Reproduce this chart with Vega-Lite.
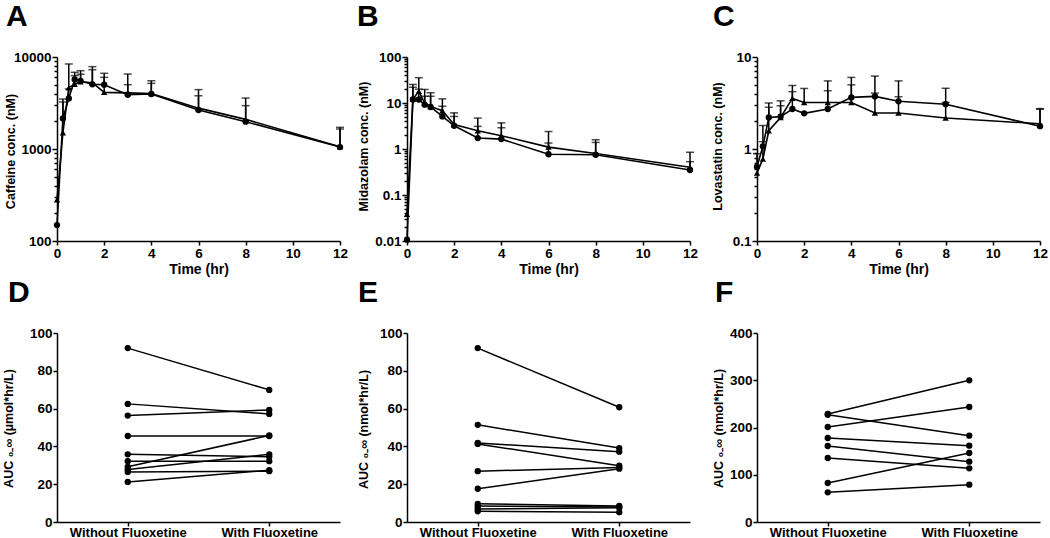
{
  "$schema": "https://vega.github.io/schema/vega-lite/v6.json",
  "padding": {"left": 2, "top": 2, "right": 0, "bottom": 0},
  "background": "white",
  "columns": 3,
  "bounds": "flush",
  "spacing": {"row": 92, "column": 67},
  "datasets": {
    "A": [
      {"t": 0, "s": "c", "m": 149}, {"t": 0, "s": "t", "m": 280},
      {"t": 0.25, "s": "c", "m": 2150, "u": 3240}, {"t": 0.25, "s": "t", "m": 1500, "u": 3490},
      {"t": 0.5, "s": "c", "m": 3550, "u": 4500}, {"t": 0.5, "s": "t", "m": 4640, "u": 8400},
      {"t": 0.75, "s": "c", "m": 5710, "u": 6820}, {"t": 0.75, "s": "t", "m": 5050, "u": 6270},
      {"t": 1, "s": "c", "m": 5490, "u": 7100}, {"t": 1, "s": "t", "m": 5370, "u": 6500},
      {"t": 1.5, "s": "c", "m": 5050, "u": 7850}, {"t": 1.5, "s": "t", "m": 5260, "u": 7280},
      {"t": 2, "s": "c", "m": 5000, "u": 6650}, {"t": 2, "s": "t", "m": 4130, "u": 6010},
      {"t": 3, "s": "c", "m": 3890, "u": 5000}, {"t": 3, "s": "t", "m": 4070, "u": 6530},
      {"t": 4, "s": "c", "m": 3960, "u": 5520}, {"t": 4, "s": "t", "m": 4000, "u": 5170},
      {"t": 6, "s": "c", "m": 2650, "u": 3790}, {"t": 6, "s": "t", "m": 2780, "u": 4420},
      {"t": 8, "s": "c", "m": 1980, "u": 2960}, {"t": 8, "s": "t", "m": 2100, "u": 3580},
      {"t": 12, "s": "c", "m": 1050, "u": 1720}, {"t": 12, "s": "t", "m": 1060, "u": 1650}
    ],
    "B": [
      {"t": 0, "s": "s", "m": 0.0107}, {"t": 0, "s": "t", "m": 0.038},
      {"t": 0.25, "s": "s", "m": 11.9, "u": 22}, {"t": 0.25, "s": "t", "m": 12, "u": 25.3},
      {"t": 0.5, "s": "s", "m": 11.9, "u": 20}, {"t": 0.5, "s": "t", "m": 18, "u": 35.5},
      {"t": 0.75, "s": "s", "m": 9.2, "u": 14}, {"t": 0.75, "s": "t", "m": 9.9, "u": 19.7},
      {"t": 1, "s": "s", "m": 8.2, "u": 14}, {"t": 1, "s": "t", "m": 8.4, "u": 16.7},
      {"t": 1.5, "s": "s", "m": 5.1, "u": 8.5}, {"t": 1.5, "s": "t", "m": 6.8, "u": 12.3},
      {"t": 2, "s": "s", "m": 3.2, "u": 5.1}, {"t": 2, "s": "t", "m": 3.4, "u": 6.1},
      {"t": 3, "s": "s", "m": 1.73, "u": 3.1}, {"t": 3, "s": "t", "m": 2.5, "u": 4.7},
      {"t": 4, "s": "s", "m": 1.64, "u": 2.9}, {"t": 4, "s": "t", "m": 1.95, "u": 3.7},
      {"t": 6, "s": "s", "m": 0.77, "u": 1.35}, {"t": 6, "s": "t", "m": 1.1, "u": 2.4},
      {"t": 8, "s": "s", "m": 0.75, "u": 1.39}, {"t": 8, "s": "t", "m": 0.8, "u": 1.59},
      {"t": 12, "s": "s", "m": 0.35, "u": 0.53}, {"t": 12, "s": "t", "m": 0.4, "u": 0.85}
    ],
    "C": [
      {"t": 0, "s": "c", "m": 0.64, "u": 0.89}, {"t": 0, "s": "t", "m": 0.55},
      {"t": 0.25, "s": "c", "m": 1.07, "u": 1.8}, {"t": 0.25, "s": "t", "m": 0.78, "u": 1.2},
      {"t": 0.5, "s": "c", "m": 2.2, "u": 3.16}, {"t": 0.5, "s": "t", "m": 1.58, "u": 2.84},
      {"t": 1, "s": "c", "m": 2.25, "u": 3.34}, {"t": 1, "s": "t", "m": 2.2, "u": 2.95},
      {"t": 1.5, "s": "c", "m": 2.72, "u": 4.2}, {"t": 1.5, "s": "t", "m": 3.55, "u": 4.9},
      {"t": 2, "s": "c", "m": 2.44}, {"t": 2, "s": "t", "m": 3.2, "u": 4.55},
      {"t": 3, "s": "c", "m": 2.72, "u": 4.3}, {"t": 3, "s": "t", "m": 3.2, "u": 5.5},
      {"t": 4, "s": "c", "m": 3.64, "u": 6.0}, {"t": 4, "s": "t", "m": 3.2, "u": 4.98},
      {"t": 5, "s": "c", "m": 3.73, "u": 6.2}, {"t": 5, "s": "t", "m": 2.46, "u": 4.05},
      {"t": 6, "s": "c", "m": 3.3, "u": 5.5}, {"t": 6, "s": "t", "m": 2.46, "u": 3.7},
      {"t": 8, "s": "c", "m": 3.07, "u": 4.57}, {"t": 8, "s": "t", "m": 2.17, "u": 3.2},
      {"t": 12, "s": "c", "m": 1.77, "u": 2.75}, {"t": 12, "s": "t", "m": 1.88, "u": 2.7}
    ],
    "D": [
      {"id": 1, "cond": "Without Fluoxetine", "v": 92.0}, {"id": 1, "cond": "With Fluoxetine", "v": 69.9},
      {"id": 2, "cond": "Without Fluoxetine", "v": 62.5}, {"id": 2, "cond": "With Fluoxetine", "v": 57.2},
      {"id": 3, "cond": "Without Fluoxetine", "v": 56.3}, {"id": 3, "cond": "With Fluoxetine", "v": 59.3},
      {"id": 4, "cond": "Without Fluoxetine", "v": 45.5}, {"id": 4, "cond": "With Fluoxetine", "v": 45.5},
      {"id": 5, "cond": "Without Fluoxetine", "v": 29.2}, {"id": 5, "cond": "With Fluoxetine", "v": 45.8},
      {"id": 6, "cond": "Without Fluoxetine", "v": 35.8}, {"id": 6, "cond": "With Fluoxetine", "v": 34.5},
      {"id": 7, "cond": "Without Fluoxetine", "v": 32.2}, {"id": 7, "cond": "With Fluoxetine", "v": 32.2},
      {"id": 8, "cond": "Without Fluoxetine", "v": 27.8}, {"id": 8, "cond": "With Fluoxetine", "v": 35.8},
      {"id": 9, "cond": "Without Fluoxetine", "v": 26.5}, {"id": 9, "cond": "With Fluoxetine", "v": 26.9},
      {"id": 10, "cond": "Without Fluoxetine", "v": 21.2}, {"id": 10, "cond": "With Fluoxetine", "v": 27.4}
    ],
    "E": [
      {"id": 1, "cond": "Without Fluoxetine", "v": 92.0}, {"id": 1, "cond": "With Fluoxetine", "v": 60.7},
      {"id": 2, "cond": "Without Fluoxetine", "v": 51.4}, {"id": 2, "cond": "With Fluoxetine", "v": 39.1},
      {"id": 3, "cond": "Without Fluoxetine", "v": 41.8}, {"id": 3, "cond": "With Fluoxetine", "v": 37.2},
      {"id": 4, "cond": "Without Fluoxetine", "v": 41.3}, {"id": 4, "cond": "With Fluoxetine", "v": 29.8},
      {"id": 5, "cond": "Without Fluoxetine", "v": 26.9}, {"id": 5, "cond": "With Fluoxetine", "v": 28.8},
      {"id": 6, "cond": "Without Fluoxetine", "v": 17.6}, {"id": 6, "cond": "With Fluoxetine", "v": 28.2},
      {"id": 7, "cond": "Without Fluoxetine", "v": 9.6}, {"id": 7, "cond": "With Fluoxetine", "v": 8.5},
      {"id": 8, "cond": "Without Fluoxetine", "v": 8.4}, {"id": 8, "cond": "With Fluoxetine", "v": 8.0},
      {"id": 9, "cond": "Without Fluoxetine", "v": 6.9}, {"id": 9, "cond": "With Fluoxetine", "v": 7.6},
      {"id": 10, "cond": "Without Fluoxetine", "v": 5.7}, {"id": 10, "cond": "With Fluoxetine", "v": 5.2}
    ],
    "F": [
      {"id": 1, "cond": "Without Fluoxetine", "v": 228.6}, {"id": 1, "cond": "With Fluoxetine", "v": 299.8},
      {"id": 2, "cond": "Without Fluoxetine", "v": 227.0}, {"id": 2, "cond": "With Fluoxetine", "v": 182.7},
      {"id": 3, "cond": "Without Fluoxetine", "v": 201.0}, {"id": 3, "cond": "With Fluoxetine", "v": 243.4},
      {"id": 4, "cond": "Without Fluoxetine", "v": 177.8}, {"id": 4, "cond": "With Fluoxetine", "v": 161.5},
      {"id": 5, "cond": "Without Fluoxetine", "v": 160.8}, {"id": 5, "cond": "With Fluoxetine", "v": 127.7},
      {"id": 6, "cond": "Without Fluoxetine", "v": 135.4}, {"id": 6, "cond": "With Fluoxetine", "v": 113.6},
      {"id": 7, "cond": "Without Fluoxetine", "v": 82.5}, {"id": 7, "cond": "With Fluoxetine", "v": 146.0},
      {"id": 8, "cond": "Without Fluoxetine", "v": 62.8}, {"id": 8, "cond": "With Fluoxetine", "v": 79.0}
    ]
  },
  "concat": [
    {
      "width": 283, "height": 184,
      "title": {"text": "A", "dx": -51, "offset": 18},
      "data": {"name": "A"},
      "encoding": {
        "x": {"field": "t", "type": "quantitative", "title": "Time (hr)", "scale": {"domain": [0, 12], "nice": false}, "axis": {"values": [0, 2, 4, 6, 8, 10, 12]}},
        "y": {"field": "m", "type": "quantitative", "title": "Caffeine conc. (nM)", "scale": {"type": "log", "domain": [100, 10000], "nice": false},
          "axis": {"values": [100, 200, 300, 400, 500, 600, 700, 800, 900, 1000, 2000, 3000, 4000, 5000, 6000, 7000, 8000, 9000, 10000], "format": "~g",
            "labelExpr": "indexof([100,1000,10000], datum.value) >= 0 ? datum.label : ''",
            "tickSize": {"condition": {"test": "indexof([100,1000,10000], datum.value) >= 0", "value": 5}, "value": 3},
            "titleX": -40, "titleY": 94}}
      },
      "layer": [
        {"transform": [{"filter": "isValid(datum.u)"}], "mark": {"type": "rule", "color": "black", "strokeWidth": 1.5}, "encoding": {"y2": {"field": "u"}}},
        {"transform": [{"filter": "isValid(datum.u)"}], "mark": {"type": "tick", "orient": "horizontal", "size": 8, "thickness": 1.5, "color": "black"}, "encoding": {"y": {"field": "u", "type": "quantitative", "title": "Caffeine conc. (nM)"}}},
        {"mark": {"type": "line", "color": "black", "strokeWidth": 1.6}, "encoding": {"detail": {"field": "s"}}},
        {"mark": {"type": "point", "filled": true, "color": "black", "opacity": 1, "size": 40}, "encoding": {"shape": {"field": "s", "type": "nominal", "scale": {"domain": ["c", "t"], "range": ["circle", "triangle-up"]}, "legend": null}}}
      ]
    },
    {
      "width": 283, "height": 184,
      "title": {"text": "B", "dx": -50, "offset": 18},
      "data": {"name": "B"},
      "encoding": {
        "x": {"field": "t", "type": "quantitative", "title": "Time (hr)", "scale": {"domain": [0, 12], "nice": false}, "axis": {"values": [0, 2, 4, 6, 8, 10, 12]}},
        "y": {"field": "m", "type": "quantitative", "title": "Midazolam conc. (nM)", "scale": {"type": "log", "domain": [0.01, 100], "nice": false},
          "axis": {"values": [0.01, 0.02, 0.03, 0.04, 0.05, 0.06, 0.07, 0.08, 0.09, 0.1, 0.2, 0.3, 0.4, 0.5, 0.6, 0.7, 0.8, 0.9, 1, 2, 3, 4, 5, 6, 7, 8, 9, 10, 20, 30, 40, 50, 60, 70, 80, 90, 100], "format": "~g",
            "labelExpr": "indexof([0.01,0.1,1,10,100], datum.value) >= 0 ? datum.label : ''",
            "tickSize": {"condition": {"test": "indexof([0.01,0.1,1,10,100], datum.value) >= 0", "value": 5}, "value": 3},
            "titleX": -37, "titleY": 89}}
      },
      "layer": [
        {"transform": [{"filter": "isValid(datum.u)"}], "mark": {"type": "rule", "color": "black", "strokeWidth": 1.5}, "encoding": {"y2": {"field": "u"}}},
        {"transform": [{"filter": "isValid(datum.u)"}], "mark": {"type": "tick", "orient": "horizontal", "size": 8, "thickness": 1.5, "color": "black"}, "encoding": {"y": {"field": "u", "type": "quantitative", "title": "Midazolam conc. (nM)"}}},
        {"mark": {"type": "line", "color": "black", "strokeWidth": 1.6}, "encoding": {"detail": {"field": "s"}}},
        {"mark": {"type": "point", "filled": true, "color": "black", "opacity": 1, "size": 40}, "encoding": {"shape": {"field": "s", "type": "nominal", "scale": {"domain": ["s", "t"], "range": ["square", "triangle-up"]}, "legend": null}}}
      ]
    },
    {
      "width": 283, "height": 184,
      "title": {"text": "C", "dx": -44, "offset": 18},
      "data": {"name": "C"},
      "encoding": {
        "x": {"field": "t", "type": "quantitative", "title": "Time (hr)", "scale": {"domain": [0, 12], "nice": false}, "axis": {"values": [0, 2, 4, 6, 8, 10, 12]}},
        "y": {"field": "m", "type": "quantitative", "title": "Lovastatin conc. (nM)", "scale": {"type": "log", "domain": [0.1, 10], "nice": false},
          "axis": {"values": [0.1, 0.2, 0.3, 0.4, 0.5, 0.6, 0.7, 0.8, 0.9, 1, 2, 3, 4, 5, 6, 7, 8, 9, 10], "format": "~g",
            "labelExpr": "indexof([0.1,1,10], datum.value) >= 0 ? datum.label : ''",
            "tickSize": {"condition": {"test": "indexof([0.1,1,10], datum.value) >= 0", "value": 5}, "value": 3},
            "titleX": -33, "titleY": 89}}
      },
      "layer": [
        {"transform": [{"filter": "isValid(datum.u)"}], "mark": {"type": "rule", "color": "black", "strokeWidth": 1.5}, "encoding": {"y2": {"field": "u"}}},
        {"transform": [{"filter": "isValid(datum.u)"}], "mark": {"type": "tick", "orient": "horizontal", "size": 8, "thickness": 1.5, "color": "black"}, "encoding": {"y": {"field": "u", "type": "quantitative", "title": "Lovastatin conc. (nM)"}}},
        {"mark": {"type": "line", "color": "black", "strokeWidth": 1.6}, "encoding": {"detail": {"field": "s"}}},
        {"mark": {"type": "point", "filled": true, "color": "black", "opacity": 1, "size": 40}, "encoding": {"shape": {"field": "s", "type": "nominal", "scale": {"domain": ["c", "t"], "range": ["circle", "triangle-up"]}, "legend": null}}}
      ]
    },
    {
      "width": 283, "height": 189,
      "title": {"text": "D", "dx": -49, "offset": 18},
      "data": {"name": "D"},
      "mark": {"type": "line", "color": "black", "strokeWidth": 1.5, "point": {"filled": true, "color": "black", "opacity": 1, "size": 40}},
      "encoding": {
        "x": {"field": "cond", "type": "ordinal", "sort": ["Without Fluoxetine", "With Fluoxetine"], "scale": {"type": "point", "padding": 0.5}, "axis": {"title": null, "labelAngle": 0, "labelPadding": 0, "labelFontSize": 13}},
        "y": {"field": "v", "type": "quantitative", "scale": {"domain": [0, 100], "nice": false}, "axis": {"values": [0, 20, 40, 60, 80, 100], "title": "AUC ₀₋∞ (µmol*hr/L)", "titleX": -42, "titleY": 95}},
        "detail": {"field": "id"}
      }
    },
    {
      "width": 283, "height": 189,
      "title": {"text": "E", "dx": -49, "offset": 18},
      "data": {"name": "E"},
      "mark": {"type": "line", "color": "black", "strokeWidth": 1.5, "point": {"filled": true, "color": "black", "opacity": 1, "size": 40}},
      "encoding": {
        "x": {"field": "cond", "type": "ordinal", "sort": ["Without Fluoxetine", "With Fluoxetine"], "scale": {"type": "point", "padding": 0.5}, "axis": {"title": null, "labelAngle": 0, "labelPadding": 0, "labelFontSize": 13}},
        "y": {"field": "v", "type": "quantitative", "scale": {"domain": [0, 100], "nice": false}, "axis": {"values": [0, 20, 40, 60, 80, 100], "title": "AUC ₀₋∞ (nmol*hr/L)", "titleX": -37, "titleY": 96}},
        "detail": {"field": "id"}
      }
    },
    {
      "width": 283, "height": 189,
      "title": {"text": "F", "dx": -42, "offset": 18},
      "data": {"name": "F"},
      "mark": {"type": "line", "color": "black", "strokeWidth": 1.5, "point": {"filled": true, "color": "black", "opacity": 1, "size": 40}},
      "encoding": {
        "x": {"field": "cond", "type": "ordinal", "sort": ["Without Fluoxetine", "With Fluoxetine"], "scale": {"type": "point", "padding": 0.5}, "axis": {"title": null, "labelAngle": 0, "labelPadding": 0, "labelFontSize": 13}},
        "y": {"field": "v", "type": "quantitative", "scale": {"domain": [0, 400], "nice": false}, "axis": {"values": [0, 100, 200, 300, 400], "title": "AUC ₀₋∞ (nmol*hr/L)", "titleX": -32, "titleY": 95}},
        "detail": {"field": "id"}
      }
    }
  ],
  "config": {
    "font": "Liberation Sans",
    "view": {"stroke": null},
    "axis": {"labelFont": "Liberation Sans", "labelFontWeight": "bold", "labelFontSize": 13.5, "labelColor": "black", "titleFont": "Liberation Sans", "titleFontWeight": "bold", "titleColor": "black", "domainColor": "black", "domainWidth": 1.5, "tickColor": "black", "tickWidth": 1.5, "tickSize": 4, "grid": false, "labelPadding": 1},
    "axisX": {"titleFontSize": 14, "titlePadding": 3, "labelFlush": false, "labelOverlap": false},
    "axisY": {"titleFontSize": 12.5, "labelOverlap": false},
    "title": {"font": "Liberation Sans", "fontSize": 30, "fontWeight": "bold", "anchor": "start", "frame": "group", "baseline": "alphabetic", "color": "black"}
  }
}
